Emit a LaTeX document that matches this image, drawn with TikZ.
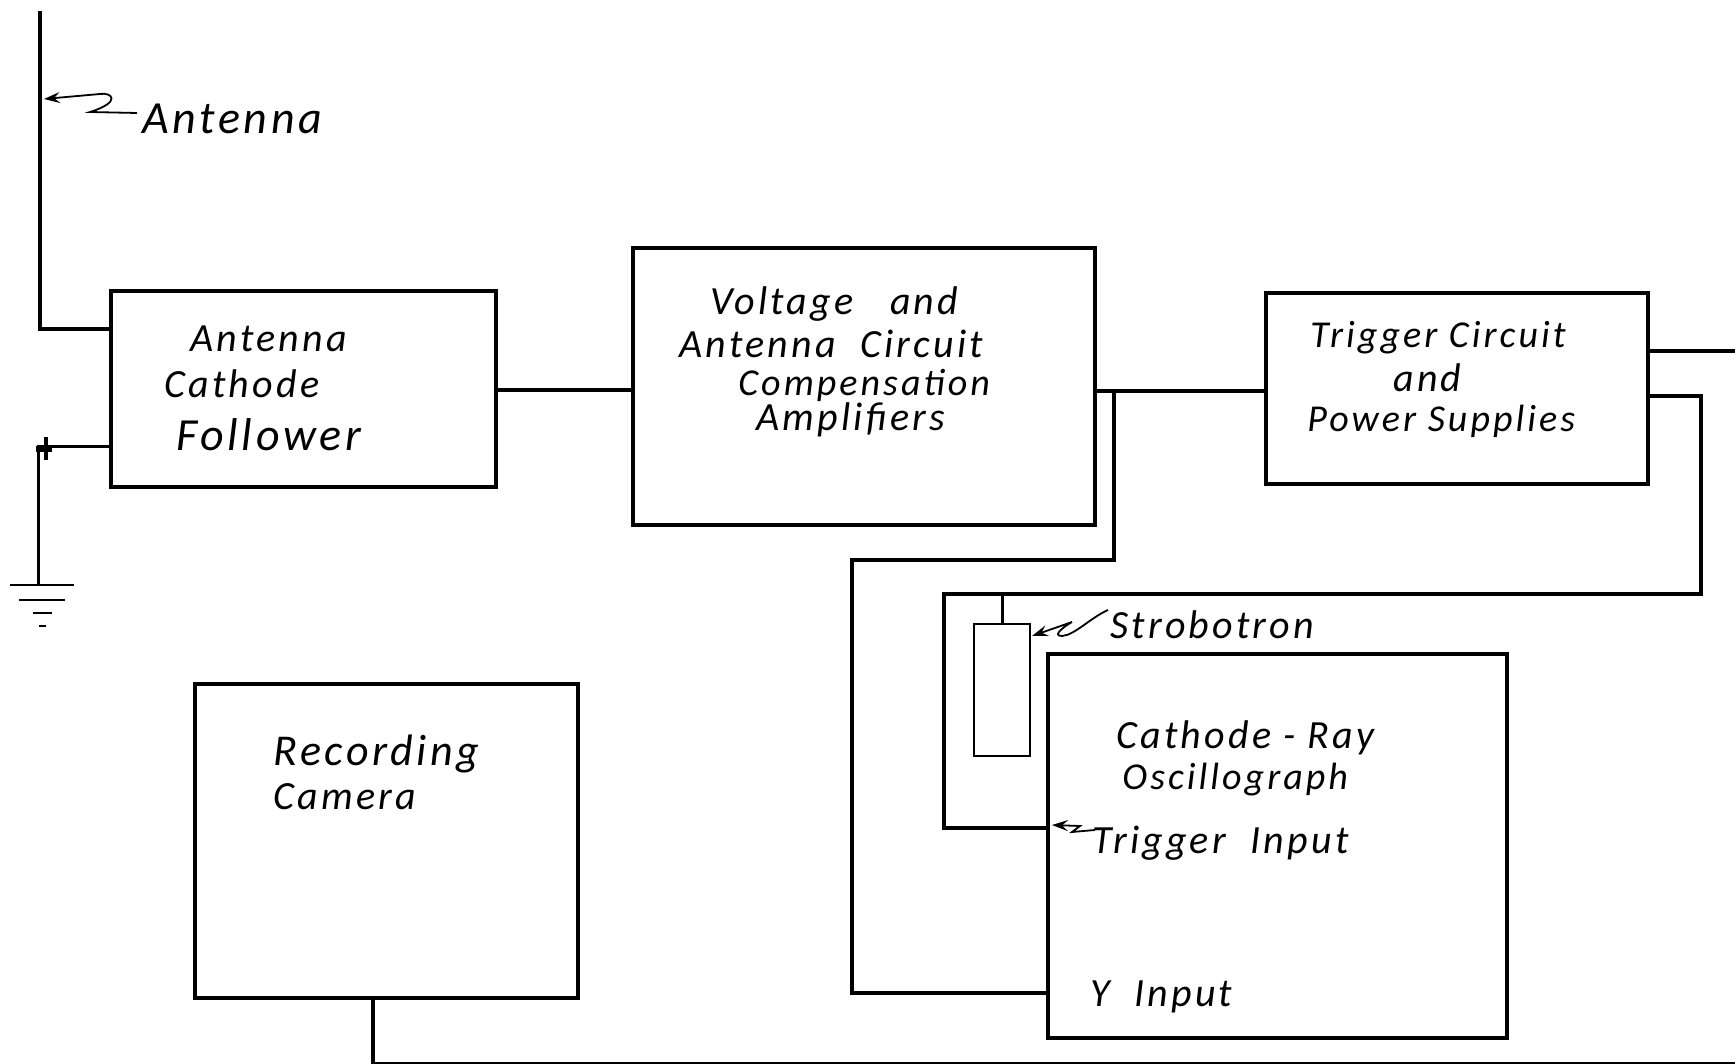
\documentclass[tikz,border=0pt]{standalone}
\usepackage{fontspec}
\setmainfont[LetterSpace=8]{Carlito}
\usetikzlibrary{arrows.meta}
\tikzset{
	blockbox/.style={draw, line width=2pt, inner sep=0pt, outer sep=0pt},
	wire/.style={line width=1.9pt, line join=miter},
	pointer/.style={line width=0.9pt, -{Stealth[length=8pt, width=5.5pt, inset=3pt]}},
	lettering/.style={anchor=west, inner sep=0pt},
	tightletter/.style={lettering, font=\itshape\fontsize{19}{20}\selectfont},
	wideletter/.style={lettering, font=\itshape\fontsize{23}{24}\selectfont},
}

\begin{document}
\begin{tikzpicture}[x=0.5pt, y=-0.5pt, every node/.style={font=\itshape\fontsize{20}{22}\selectfont}]
	\useasboundingbox (0,0) rectangle (1735,1064);
	% blocks
	\node[blockbox, minimum width=192.5pt, minimum height=98pt] (follower) at (303.5,389) {};
	\node[blockbox, minimum width=231pt, minimum height=138.5pt] (amplifiers) at (864,386.5) {};
	\node[blockbox, minimum width=191pt, minimum height=95.5pt] (trigger) at (1457,388.5) {};
	\node[blockbox, minimum width=191.5pt, minimum height=157pt] (camera) at (386.5,841) {};
	\node[blockbox, minimum width=229.5pt, minimum height=192pt] (oscillograph) at (1277.5,846) {};
	\node[blockbox, line width=1.2pt, minimum width=28pt, minimum height=66pt] (strobotron) at (1002,690) {};
	% lettering inside the blocks
	\node[lettering] (antA) at (190,339) {Antenna};
	\node[lettering] (antB) at (164,384) {Cathode};
	\node[wideletter] (antC) at (176,435) {Follower};
	\node[lettering] (ampA) at (710,304) {Voltage\ \ \ and};
	\node[lettering] (ampB) at (679,344) {Antenna\ \ Circuit};
	\node[tightletter] (ampC) at (738,385) {Compensation};
	\node[lettering] (ampD) at (756,420) {Amplifiers};
	\node[tightletter] (trgA) at (1310,338) {Trigger Circuit};
	\node[lettering] (trgB) at (1393,378) {and};
	\node[tightletter] (trgC) at (1307,421) {Power Supplies};
	\node[lettering, font=\itshape\fontsize{22}{24}\selectfont] (camA) at (273,754) {Recording};
	\node[lettering] (camB) at (273,797) {Camera};
	\node[lettering] (croA) at (1116,738) {Cathode - Ray};
	\node[tightletter] (croB) at (1122,780) {Oscillograph};
	\node[lettering] (croC) at (1092,843) {Trigger\ \ Input};
	\node[lettering] (croD) at (1090,997) {Y\ \ Input};
	% outer labels
	\node[wideletter] (lblAntenna) at (142,119) {Antenna};
	\node[lettering] (lblStrobe) at (1110,625) {Strobotron};
	% free ends and taps
	\coordinate (antTop) at (40,11);
	\coordinate (antIn) at (111,329);
	\coordinate (gndTop) at (38,584);
	\coordinate (gndIn) at (111,446);
	\coordinate (ampOut) at (1095,391);
	\coordinate (trgIn) at (1266,391);
	\coordinate (tap) at (1114,391);
	\coordinate (yIn) at (1048,993);
	\coordinate (trgOutA) at (1648,351);
	\coordinate (edgeA) at (1735,351);
	\coordinate (trgOutB) at (1648,396);
	\coordinate (trigIn) at (1048,828);
	\coordinate (bottomEdge) at (1735,1064);
	% wiring
	\draw[wire] (antTop) |- (antIn);
	\draw[wire, line width=1.5pt] (gndTop) |- (gndIn);
	\draw[line width=3pt] (36,449) -- (52,449);
	\draw[line width=2pt] (46,437) -- (46,460);
	\draw[wire] (follower.east |- 0,390) -- (amplifiers.west |- 0,390);
	\draw[wire] (ampOut) -- (trgIn);
	\draw[wire] (tap) -- (1114,560) -- (852,560) |- (yIn);
	\draw[wire] (trgOutA) -- (edgeA);
	\draw[wire] (trgOutB) -- (1701,396) -- (1701,594) -- (944,594) |- (trigIn);
	\draw[wire, line width=1.5pt] (strobotron.north) -- (strobotron.north |- 0,594);
	\draw[wire] (camera.south -| 373,0) |- (bottomEdge);
	% ground bars
	\foreach \wd/\yy in {32/585, 23/600, 9.5/613, 3.5/626} {
		\draw[line width=0.8pt] ({42-\wd},\yy) -- ({42+\wd},\yy);
	}
	% leader arrows
	\draw[pointer] (137,113) -- (90,112) .. controls (122,102) and (112,92) .. (100,94) -- (44,99);
	\draw[pointer] (1108,610) .. controls (1090,618) and (1075,635) .. (1062,636) .. controls (1050,636) and (1068,624) .. (1072,622) -- (1032,636);
	\draw[pointer] (1095,830) -- (1072,832) -- (1080,826) -- (1052,825);
\end{tikzpicture}
\end{document}
